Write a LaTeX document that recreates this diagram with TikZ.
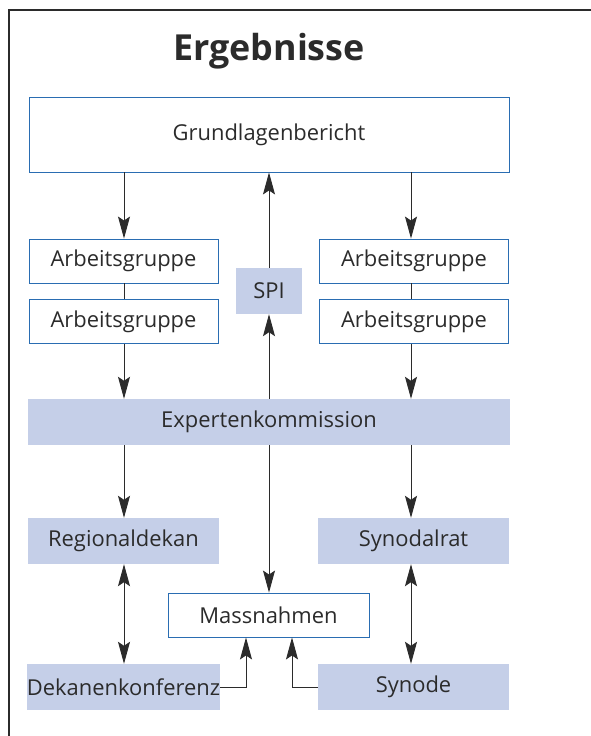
\documentclass[tikz,border=0pt]{standalone}
\usepackage{fontspec}
\setmainfont{Open Sans}
\usetikzlibrary{arrows.meta}
\definecolor{boxline}{HTML}{2A6DB2}
\definecolor{boxfill}{HTML}{C5CFE8}
\definecolor{linegray}{HTML}{2B2B2B}
\tikzset{
  whitebox/.style={draw=boxline, line width=0.9bp, fill=white, text=linegray, inner sep=0pt, font=\fontsize{22}{26}\selectfont},
  bluebox/.style={fill=boxfill, text=linegray, inner sep=0pt, font=\fontsize{22}{26}\selectfont},
  arr/.style={draw=linegray, line width=0.9bp, -{Stealth[length=22bp, width=12bp, inset=4bp]}},
  darr/.style={draw=linegray, line width=0.9bp, {Stealth[length=22bp, width=12bp, inset=4bp]}-{Stealth[length=22bp, width=12bp, inset=4bp]}},
  link/.style={draw=linegray, line width=0.9bp}
}
\begin{document}
\begin{tikzpicture}[x=1bp, y=-1bp]
		\fill [white] (0,0) rectangle (591,736);
		\useasboundingbox (0,0) rectangle (591,736);
		\draw [line width=1.5bp, linegray] (591,10) -- (9,10) -- (9,736);
		\node[font=\fontsize{36}{40}\selectfont\bfseries, text=linegray] (title) at (269,51) {Ergebnisse};
		\node[whitebox, minimum width=480bp, minimum height=75bp] (gb) at (269,134.5) {Grundlagenbericht};
		\node[whitebox, minimum width=189bp, minimum height=44bp] (agA) at (123.5,261) {Arbeitsgruppe};
		\node[whitebox, minimum width=189bp, minimum height=44bp] (agB) at (123.5,321.5) {Arbeitsgruppe};
		\node[whitebox, minimum width=189bp, minimum height=44bp] (agC) at (414,261) {Arbeitsgruppe};
		\node[whitebox, minimum width=189bp, minimum height=44bp] (agD) at (414,321.5) {Arbeitsgruppe};
		\node[bluebox, minimum width=66bp, minimum height=46bp] (spi) at (269,291) {SPI};
		\node[bluebox, minimum width=482bp, minimum height=46bp] (ek) at (269,422) {Expertenkommission};
		\node[bluebox, minimum width=191bp, minimum height=46bp] (rd) at (123.5,541) {Regionaldekan};
		\node[bluebox, minimum width=191bp, minimum height=46bp] (sr) at (413.5,541) {Synodalrat};
		\node[whitebox, minimum width=201bp, minimum height=44bp] (mn) at (268.5,615) {Massnahmen};
		\node[bluebox, minimum width=191bp, minimum height=46bp] (dk) at (123.5,687) {Dekanenkonferenz};
		\node[bluebox, minimum width=191bp, minimum height=46bp] (sy) at (413.5,687) {Synode};
		\coordinate (lcol) at (124,0);
		\coordinate (ccol) at (269,0);
		\coordinate (rcol) at (411,0);
		% left column
		\draw [arr] (gb.south -| lcol) -- (agA.north -| lcol);
		\draw [link] (agA.south -| lcol) -- (agB.north -| lcol);
		\draw [arr] (agB.south -| lcol) -- (ek.north -| lcol);
		\draw [arr] (ek.south -| lcol) -- (rd.north -| lcol);
		\draw [darr] (rd.south -| lcol) -- (dk.north -| lcol);
		% right column
		\draw [arr] (gb.south -| rcol) -- (agC.north -| rcol);
		\draw [link] (agC.south -| rcol) -- (agD.north -| rcol);
		\draw [arr] (agD.south -| rcol) -- (ek.north -| rcol);
		\draw [arr] (ek.south -| rcol) -- (sr.north -| rcol);
		\draw [darr] (sr.south -| rcol) -- (sy.north -| rcol);
		% centre
		\draw [arr] (spi.north) -- (gb.south -| ccol);
		\draw [arr] (ek.north -| ccol) -- (spi.south);
		\draw [arr] (ek.south -| ccol) -- (mn.north -| ccol);
		\draw [arr] (dk.east) -| ([xshift=-22.5bp]mn.south);
		\draw [arr] (sy.west) -| ([xshift=23.5bp]mn.south);
\end{tikzpicture}
\end{document}
